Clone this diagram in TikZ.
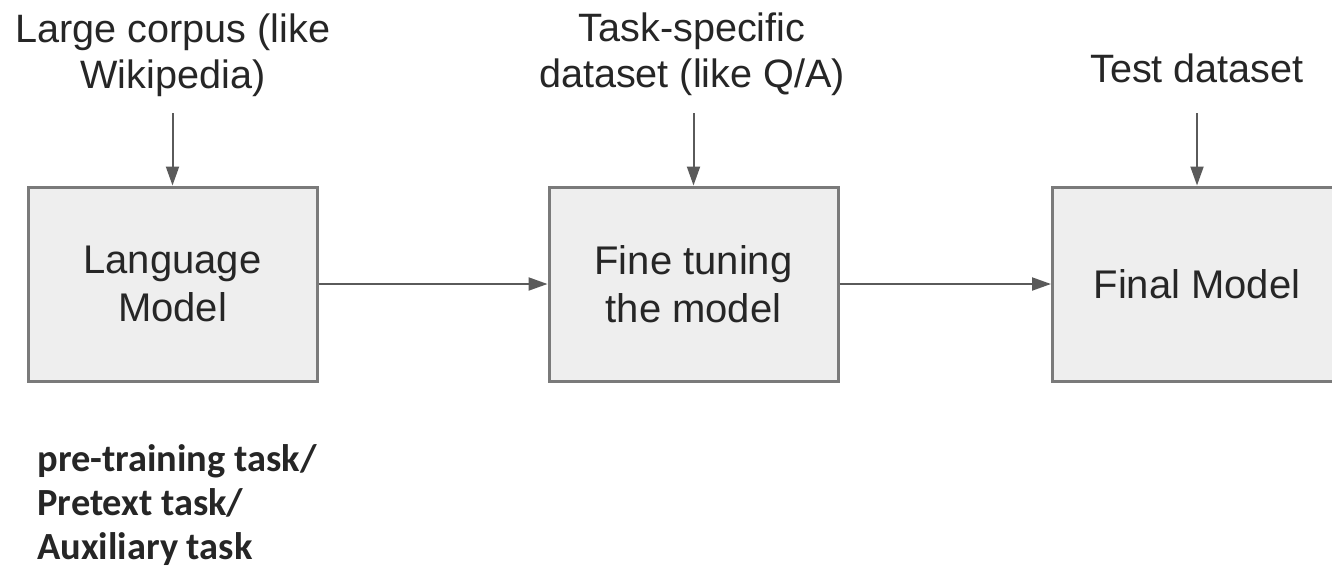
\documentclass[tikz,border=0pt]{standalone}
\usepackage{fontspec}
\setmainfont{Liberation Sans}
\newfontfamily\carlito{Carlito}
\usetikzlibrary{arrows.meta}
\definecolor{boxfill}{HTML}{EEEEEE}
\definecolor{boxline}{HTML}{7A7A7A}
\definecolor{arrowc}{HTML}{5A5A5A}
\definecolor{txt}{HTML}{262626}
\tikzset{
  stage/.style={draw=boxline, fill=boxfill, line width=1.5pt, minimum width=144.5pt, minimum height=97pt, inner sep=0pt, align=center, text=txt, font=\fontsize{20}{24}\selectfont},
  label/.style={align=center, text=txt, inner sep=0pt, font=\fontsize{19.8}{23}\selectfont},
  note/.style={align=left, text=txt, inner sep=0pt, font=\carlito\bfseries\fontsize{19.2}{22}\selectfont},
  arr/.style={draw=arrowc, line width=1pt, -{Triangle[length=9.5pt, width=6.5pt]}}
}
\begin{document}
\begin{tikzpicture}[x=0.5pt, y=-0.5pt]
\clip (0,0) rectangle (1332,568);
\fill[white] (0,0) rectangle (1332,568);
\node[stage] (b1) at (172.5,284) {Language\\Model};
\node[stage] (b2) at (693.5,284) {Fine tuning\\the model};
\node[stage] (b3) at (1197,284) {Final Model};
\node[label, anchor=base] (t1) at (173,88) {Large corpus (like\\Wikipedia)};
\node[label, anchor=base] (t2) at (692,87) {Task-specific\\dataset (like Q/A)};
\node[label, anchor=base] (t3) at (1197,82) {Test dataset};
\coordinate (s1) at (172.5,113);
\coordinate (s2) at (693.5,113);
\coordinate (s3) at (1197,113);
\draw[arr] (s1) -- (b1.north);
\draw[arr] (s2) -- (b2.north);
\draw[arr] (s3) -- (b3.north);
\draw[arr] (b1.east) -- (b2.west);
\draw[arr] (b2.east) -- (b3.west);
\node[note, anchor=base west] (n1) at (37,559) {pre-training task/\\Pretext task/\\Auxiliary task};
\end{tikzpicture}
\end{document}
